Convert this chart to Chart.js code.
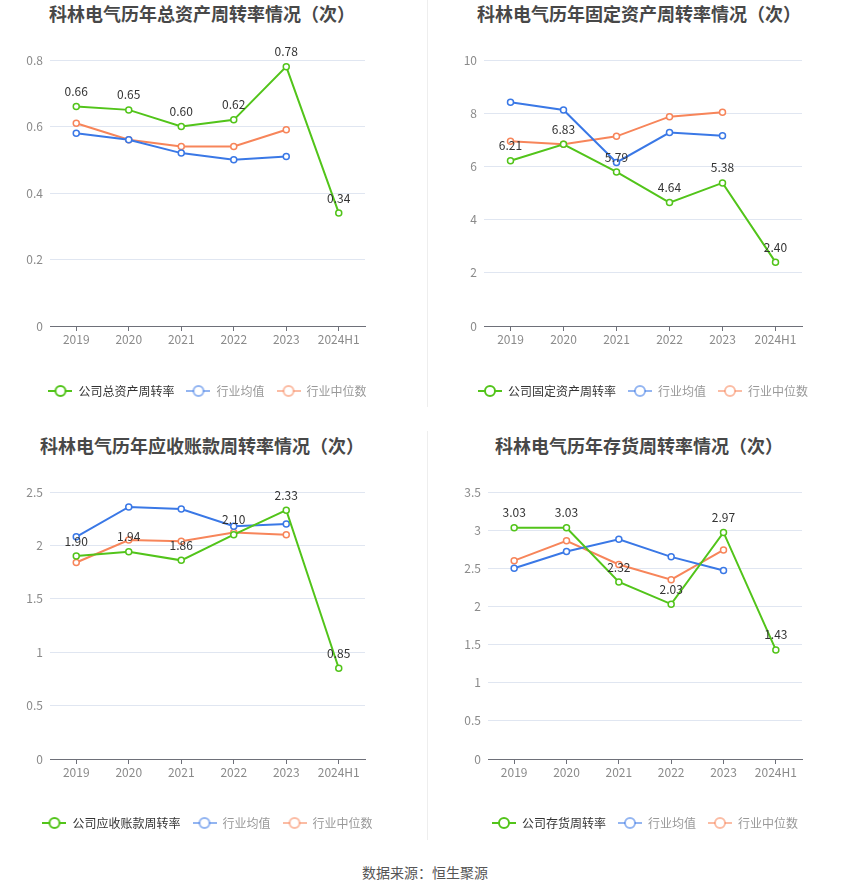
<!DOCTYPE html>
<html>
<head>
<meta charset="utf-8">
<script src="https://cdn.jsdelivr.net/npm/chart.js@4.4.1/dist/chart.umd.min.js"></script>
<style>
  html, body { margin: 0; padding: 0; background: #fff; }
  body { width: 850px; height: 891px; position: relative; overflow: hidden;
         font-family: "Noto Sans CJK SC", "Noto Sans", sans-serif; }
  .panel { position: absolute; }
  .title { position: absolute; text-align: center; font-size: 18px; font-weight: bold;
           color: #484848; line-height: 26px; white-space: nowrap; }
  .divider { position: absolute; width: 1px; background: #eeeeee; }
  .source { position: absolute; left: 0; width: 850px; top: 862px; text-align: center;
            font-size: 14px; color: #555; line-height: 20px; }
</style>
</head>
<body>

<div class="divider" style="left:427px; top:0; height:407px;"></div>
<div class="divider" style="left:427px; top:431px; height:409px;"></div>

<div class="title" style="left:0; width:404px; top:0;">科林电气历年总资产周转率情况（次）</div>
<div class="title" style="left:427px; width:424px; top:0;">科林电气历年固定资产周转率情况（次）</div>
<div class="title" style="left:0; width:404px; top:432px;">科林电气历年应收账款周转率情况（次）</div>
<div class="title" style="left:427px; width:424px; top:432px;">科林电气历年存货周转率情况（次）</div>

<div class="panel" style="left:0; top:0; width:415px; height:407px;"><canvas id="c-asset"></canvas></div>
<div class="panel" style="left:427px; top:0; width:432px; height:407px;"><canvas id="c-fixed"></canvas></div>
<div class="panel" style="left:0; top:425px; width:415px; height:414px;"><canvas id="c-recv"></canvas></div>
<div class="panel" style="left:427px; top:425px; width:436px; height:414px;"><canvas id="c-stock"></canvas></div>

<div class="source">数据来源：恒生聚源</div>

<script>
// ── Data ────────────────────────────────────────────────────
const years = ['2019', '2020', '2021', '2022', '2023', '2024H1'];

const assetCompany = [0.66, 0.65, 0.60, 0.62, 0.78, 0.34];
const assetAvg     = [0.58, 0.56, 0.52, 0.50, 0.51];
const assetMedian  = [0.61, 0.56, 0.54, 0.54, 0.59];
const assetTicks   = [0, 0.2, 0.4, 0.6, 0.8];

const fixedCompany = [6.21, 6.83, 5.79, 4.64, 5.38, 2.40];
const fixedAvg     = [8.41, 8.12, 6.15, 7.27, 7.15];
const fixedMedian  = [6.95, 6.83, 7.13, 7.87, 8.04];
const fixedTicks   = [0, 2, 4, 6, 8, 10];

const recvCompany  = [1.90, 1.94, 1.86, 2.10, 2.33, 0.85];
const recvAvg      = [2.08, 2.36, 2.34, 2.18, 2.20];
const recvMedian   = [1.84, 2.05, 2.04, 2.12, 2.10];
const recvTicks    = [0, 0.5, 1, 1.5, 2, 2.5];

const stockCompany = [3.03, 3.03, 2.32, 2.03, 2.97, 1.43];
const stockAvg     = [2.50, 2.72, 2.88, 2.65, 2.47];
const stockMedian  = [2.60, 2.86, 2.55, 2.35, 2.74];
const stockTicks   = [0, 0.5, 1, 1.5, 2, 2.5, 3, 3.5];

const legendNames = ['行业均值', '行业中位数'];

// ── Styling ─────────────────────────────────────────────────
const GREEN  = '#52c41a';
const BLUE   = '#3a78e6';
const ORANGE = '#f7855a';
const FONT   = '"Noto Sans CJK SC", "Noto Sans", sans-serif';

// legend icon: short line with an empty circle on it
function legendIcon(color, alpha) {
  const c = document.createElement('canvas');
  c.width = 24; c.height = 14;
  const g = c.getContext('2d');
  g.globalAlpha = alpha;
  g.strokeStyle = color;
  g.lineWidth = 2;
  g.beginPath(); g.moveTo(0, 7); g.lineTo(24, 7); g.stroke();
  g.globalAlpha = 1;
  g.fillStyle = '#fff';
  g.beginPath(); g.arc(12, 7, 5, 0, Math.PI * 2); g.fill();
  g.globalAlpha = alpha;
  g.beginPath(); g.arc(12, 7, 5, 0, Math.PI * 2); g.stroke();
  return c;
}

// value labels above the company series
const pointLabels = {
  id: 'pointLabels',
  afterDatasetsDraw(chart) {
    const ctx = chart.ctx;
    const meta = chart.getDatasetMeta(0);
    const values = chart.data.datasets[0].data;
    ctx.save();
    ctx.font = '12px ' + FONT;
    ctx.fillStyle = '#333';
    ctx.textAlign = 'center';
    ctx.textBaseline = 'middle';
    meta.data.forEach((pt, i) => ctx.fillText(values[i].toFixed(2), pt.x, pt.y - 15));
    ctx.restore();
  }
};

function lineSet(label, data, color) {
  return {
    label, data,
    borderColor: color,
    backgroundColor: color,
    borderWidth: 2,
    pointRadius: 3,
    pointHoverRadius: 3,
    pointBorderWidth: 1.5,
    pointBackgroundColor: '#fff',
    pointBorderColor: color,
    tension: 0
  };
}

// axisW: left axis width; an empty right axis of the same width keeps the
// full-width legend centred under the plot area
function makeChart(id, p) {
  const icons = [legendIcon(GREEN, 1), legendIcon(BLUE, 0.55), legendIcon(ORANGE, 0.55)];
  const textColors = ['#333', '#999', '#999'];

  return new Chart(document.getElementById(id), {
    type: 'line',
    data: {
      labels: years,
      datasets: [
        lineSet(p.name, p.company, GREEN),
        lineSet(legendNames[0], p.avg, BLUE),
        lineSet(legendNames[1], p.median, ORANGE)
      ]
    },
    options: {
      responsive: true,
      maintainAspectRatio: false,
      animation: false,
      layout: { padding: { top: p.padTop, right: 0, left: 0, bottom: 0 } },
      plugins: {
        title: { display: false },
        tooltip: { enabled: false },
        legend: {
          position: 'bottom',
          labels: {
            usePointStyle: true,
            pointStyleWidth: 24,
            padding: 12,
            font: { family: FONT, size: 12 },
            generateLabels: chart => chart.data.datasets.map((ds, i) => ({
              text: ds.label,
              fontColor: textColors[i],
              pointStyle: icons[i],
              fillStyle: '#fff',
              strokeStyle: ds.borderColor,
              lineWidth: 0,
              hidden: false,
              datasetIndex: i
            }))
          }
        }
      },
      scales: {
        x: {
          offset: true,
          afterFit: s => { s.height = p.xHeight; },
          grid: { offset: false, drawOnChartArea: false, drawTicks: true, tickLength: 5, color: '#6e7079' },
          border: { display: true, color: '#6e7079' },
          ticks: { color: '#8a8a8a', padding: 1, font: { family: FONT, size: 12 }, maxRotation: 0, autoSkip: false }
        },
        y: {
          min: 0,
          max: p.ticks[p.ticks.length - 1],
          afterFit: s => { s.width = p.axisW; },
          afterBuildTicks: s => { s.ticks = p.ticks.map(v => ({ value: v })); },
          grid: { color: '#e0e6f1', drawTicks: false },
          border: { display: false },
          ticks: { color: '#8a8a8a', padding: 7, font: { family: FONT, size: 12 }, callback: v => String(v) }
        },
        pad: {
          type: 'linear',
          position: 'right',
          afterFit: s => { s.width = p.axisW; },
          grid: { display: false },
          border: { display: false },
          ticks: { display: false }
        }
      }
    },
    plugins: [pointLabels]
  });
}

// ── Charts ──────────────────────────────────────────────────
makeChart('c-asset', {
  name: '公司总资产周转率', company: assetCompany, avg: assetAvg, median: assetMedian, ticks: assetTicks,
  padTop: 60, axisW: 50, xHeight: 47
});
makeChart('c-fixed', {
  name: '公司固定资产周转率', company: fixedCompany, avg: fixedAvg, median: fixedMedian, ticks: fixedTicks,
  padTop: 60, axisW: 57, xHeight: 47
});
makeChart('c-recv', {
  name: '公司应收账款周转率', company: recvCompany, avg: recvAvg, median: recvMedian, ticks: recvTicks,
  padTop: 67, axisW: 50, xHeight: 46
});
makeChart('c-stock', {
  name: '公司存货周转率', company: stockCompany, avg: stockAvg, median: stockMedian, ticks: stockTicks,
  padTop: 67, axisW: 61, xHeight: 46
});
</script>
</body>
</html>
